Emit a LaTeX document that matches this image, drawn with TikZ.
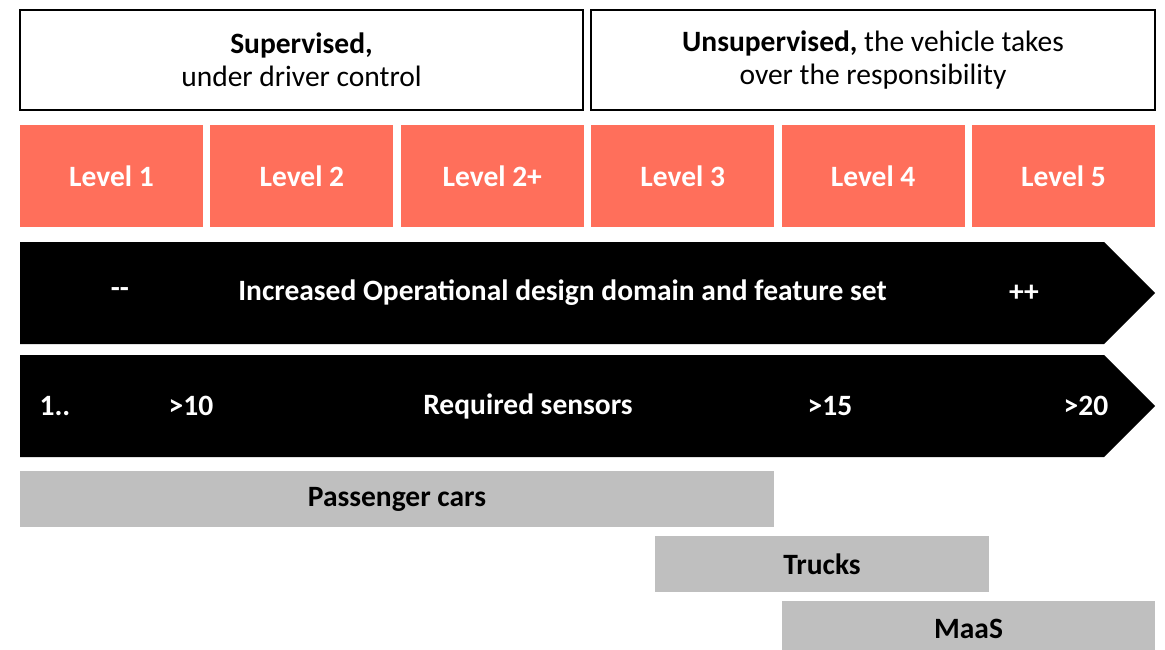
\documentclass[tikz,border=0pt]{standalone}
\usepackage{fontspec}
\setmainfont{Carlito}
\usetikzlibrary{positioning}
\definecolor{levelred}{RGB}{255,111,91}
\definecolor{bargray}{RGB}{191,191,191}
\tikzset{
    modebox/.style={draw=black, line width=2pt, align=center, inner sep=0pt, minimum height=100pt},
    levelbox/.style={fill=levelred, text=white, font=\bfseries, inner sep=0pt, minimum width=183pt, minimum height=102pt},
    vehiclebox/.style={fill=bargray, font=\bfseries, inner sep=0pt, minimum height=56pt},
    barlabel/.style={text=white, font=\bfseries, inner sep=0pt}
}
\begin{document}
\fontsize{29.5}{33}\selectfont
\begin{tikzpicture}[x=1pt,y=-1pt]
\useasboundingbox (0,0) rectangle (1165,650);
% supervision modes
\node[modebox, minimum width=563pt] (supervised) at (301.5,60) {\textbf{Supervised,}\\under driver control};
\node[modebox, minimum width=564pt] (unsupervised) at (873,60) {\textbf{Unsupervised,} the vehicle takes\\over the responsibility};
% levels
\foreach \i/\lbl in {0/1, 1/2, 2/2+, 3/3, 4/4, 5/5}{
    \node[levelbox] (level\i) at ({111.5+190.4*\i},176) {Level \lbl};
}
% arrows
\foreach \top/\name in {242/odd, 355/sensors}{
    \coordinate (\name tail) at (20,\top);
    \coordinate (\name tip) at (1155,\top+51);
    \fill[black] (\name tail) -- (1104,\top) -- (\name tip) -- (1104,\top+102) -- (20,\top+102) -- cycle;
}
\node[barlabel] (oddlow) at (120,293) {-{}-};
\node[barlabel] (oddtext) at (562.5,293) {Increased Operational design domain and feature set};
\node[barlabel] (oddhigh) at (1024,293) {++};
\node[barlabel] (sensone) at (55,406) {1..};
\node[barlabel] (sensten) at (191,406) {>10};
\node[barlabel] (senstext) at (528,406) {Required sensors};
\node[barlabel] (sensfifteen) at (830,406) {>15};
\node[barlabel] (senstwenty) at (1086,406) {>20};
% vehicle types
\node[vehiclebox, minimum width=754pt] (cars) at (397,499) {Passenger cars};
\node[vehiclebox, minimum width=334pt] (trucks) at (822,564) {Trucks};
\node[vehiclebox, minimum width=373pt] (maas) at (968.5,629) {MaaS};
\end{tikzpicture}
\end{document}
